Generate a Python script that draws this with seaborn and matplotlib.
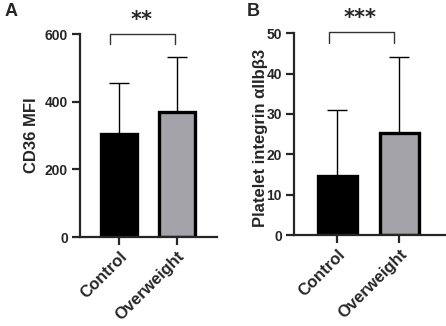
import numpy as np
import pandas as pd
import seaborn as sns
import matplotlib
matplotlib.use("Agg")
import matplotlib.pyplot as plt

groups = ["Control", "Overweight"]
cd36_mean = [303, 368]
cd36_sd = [153, 165]
itg_mean = [14.6, 25.2]
itg_sd = [16.5, 19.0]
bar_colors = ["#000000", "#a2a2aa"]

sns.set_style("ticks")
plt.rcParams["font.family"] = ["Liberation Sans", "DejaVu Sans"]
plt.rcParams["font.weight"] = "bold"


def draw_panel(ax, means, sds, ylim, ticks, ylabel, width, stars, br_y, br_tip, br_x, star_x, star_y):
    df = pd.DataFrame({"group": groups, "value": means})
    ax.errorbar(x=[0, 1], y=means, yerr=[np.zeros(2), sds], fmt="none",
                ecolor="black", elinewidth=1.0, capsize=7, capthick=1.0, zorder=1)
    sns.barplot(data=df, x="group", y="value", hue="group", palette=bar_colors,
                width=width, edgecolor="black", linewidth=2.4, legend=False, ax=ax, zorder=2)
    ax.set_ylim(*ylim)
    ax.set_yticks(ticks)
    ax.set_xlabel("")
    ax.set_ylabel(ylabel, fontsize=12, fontweight="bold")
    sns.despine(ax=ax)
    for s in ["left", "bottom"]:
        ax.spines[s].set_linewidth(1.6)
    ax.tick_params(axis="y", width=1.6, length=6, labelsize=10, pad=2.5)
    ax.tick_params(axis="x", width=1.6, length=5.5, pad=3)
    ax.set_xticks([0, 1])
    ax.set_xticklabels(groups, rotation=45, ha="right", rotation_mode="anchor",
                       fontsize=12, fontweight="bold")
    for lab in ax.get_yticklabels():
        lab.set_fontweight("bold")
    # significance bracket
    ax.plot([br_x[0], br_x[0], br_x[1], br_x[1]], [br_tip, br_y, br_y, br_tip],
            color="#333333", lw=1.0, clip_on=False)
    ax.text(star_x, star_y, stars, ha="center", va="center", fontsize=15,
            fontweight="bold", family="DejaVu Sans")


fig = plt.figure(figsize=(4.46, 3.26), dpi=100)
ax1 = fig.add_axes([0.179, 0.273, 0.3065, 0.6227])
ax2 = fig.add_axes([0.659, 0.279, 0.341, 0.619])

draw_panel(ax1, cd36_mean, cd36_sd, (0, 600), [0, 200, 400, 600], "CD36 MFI", 0.62,
           "**", 600, 570, (-0.16, 0.97), 0.39, 642)
ax1.set_xlim(-0.68, 1.68)
ax1.yaxis.set_label_coords(-0.30, 0.5)

draw_panel(ax2, itg_mean, itg_sd, (0, 50), [0, 10, 20, 30, 40, 50],
           "Platelet integrin \u03b1IIb\u03b23", 0.64,
           "***", 50.2, 47.7, (-0.13, 0.91), 0.37, 53.8)
ax2.set_xlim(-0.70, 1.75)
ax2.yaxis.set_label_coords(-0.17, 0.48)

fig.text(0.011, 0.965, "A", fontsize=13, fontweight="bold", va="center")
fig.text(0.553, 0.965, "B", fontsize=13, fontweight="bold", va="center")

fig.savefig("out.png", dpi=100)
